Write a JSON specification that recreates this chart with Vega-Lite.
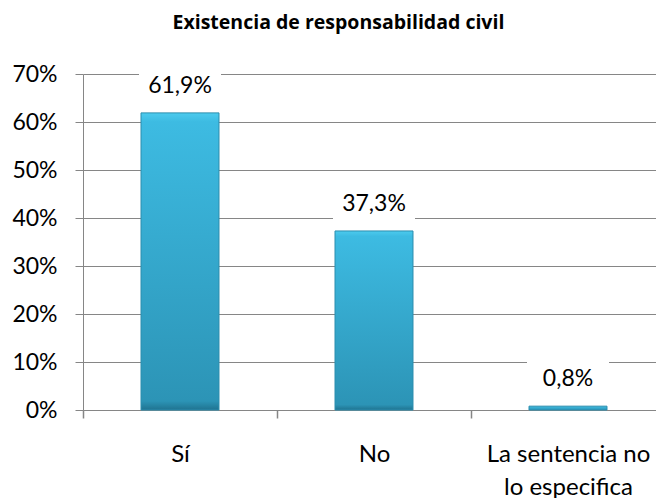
{
  "$schema": "https://vega.github.io/schema/vega-lite/v6.json",
  "width": 582,
  "height": 336,
  "autosize": {"type": "none"},
  "padding": {"left": 83, "top": 74, "right": 0, "bottom": 88},
  "background": "white",
  "config": {
    "locale": {"number": {"decimal": ",", "thousands": ".", "grouping": [3], "currency": ["", " €"]}},
    "view": {"stroke": null},
    "font": "Lato"
  },
  "title": {
    "text": "Existencia de responsabilidad civil",
    "font": "Open Sans",
    "fontSize": 19.5,
    "fontWeight": "bold",
    "color": "#000000",
    "anchor": "middle",
    "frame": "bounds",
    "offset": 30
  },
  "data": {
    "values": [
      {"cat": "Sí", "v": 0.619},
      {"cat": "No", "v": 0.373},
      {"cat": "La sentencia no lo especifica", "v": 0.008}
    ]
  },
  "encoding": {
    "x": {
      "field": "cat",
      "type": "nominal",
      "sort": null,
      "scale": {"paddingInner": 0.598, "paddingOuter": 0.299},
      "axis": {
        "title": null,
        "labelAngle": 0,
        "labelFont": "Lato",
        "labelFontSize": 24,
        "labelColor": "#000000",
        "labelLineHeight": 33,
        "labelBaseline": "top",
        "labelPadding": 24,
        "labelExpr": "datum.label == 'La sentencia no lo especifica' ? ['La sentencia no', 'lo especifica'] : datum.label",
        "domainColor": "#868686",
        "ticks": true,
        "tickColor": "#868686",
        "tickWidth": 1.5,
        "tickSize": 8,
        "tickOffset": -97,
        "labelOffset": 97
      }
    },
    "y": {
      "field": "v",
      "type": "quantitative",
      "scale": {"domain": [0, 0.7]},
      "axis": {
        "title": null,
        "format": ".0%",
        "values": [0, 0.1, 0.2, 0.3, 0.4, 0.5, 0.6, 0.7],
        "labelFont": "Lato",
        "labelFontSize": 23,
        "labelColor": "#000000",
        "labelPadding": 18,
        "domainColor": "#868686",
        "tickColor": "#868686",
        "tickSize": 8,
        "gridColor": "#868686",
        "gridOpacity": 1
      }
    }
  },
  "layer": [
    {
      "mark": {
        "type": "bar",
        "color": {
          "gradient": "linear",
          "x1": 0, "y1": 0, "x2": 0, "y2": 1,
          "stops": [
            {"offset": 0, "color": "#4CCBEE"},
            {"offset": 0.03, "color": "#3DBBE2"},
            {"offset": 0.97, "color": "#2C94B6"},
            {"offset": 1, "color": "#1F7390"}
          ]
        },
        "stroke": "#2B8DAE",
        "strokeWidth": 1
      }
    },
    {
      "mark": {
        "type": "point",
        "shape": "M-1,-0.55H1V0.55H-1Z",
        "filled": true,
        "fill": "white",
        "opacity": 1,
        "strokeWidth": 0,
        "size": 6724
      },
      "encoding": {"yOffset": {"value": -27}}
    },
    {
      "mark": {
        "type": "text",
        "dy": -27,
        "font": "Lato",
        "fontSize": 23,
        "color": "#000000",
        "baseline": "middle"
      },
      "encoding": {"text": {"field": "v", "type": "quantitative", "format": ".1%"}}
    }
  ]
}
